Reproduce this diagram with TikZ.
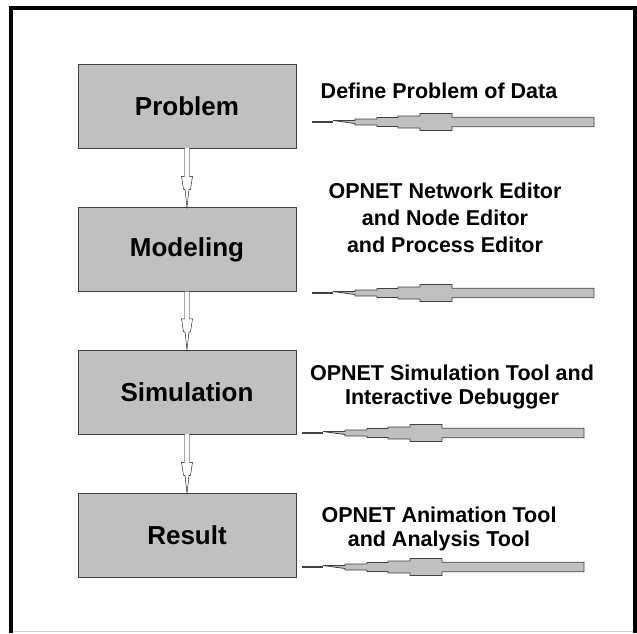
\documentclass[tikz,border=0pt]{standalone}
\usepackage{fontspec}
\setmainfont{Liberation Sans}
\usepackage{tikz}
\usetikzlibrary{positioning,calc}

\definecolor{boxgray}{RGB}{192,192,192}
\definecolor{edgegray}{RGB}{64,64,64}

% wide stepped arrow, tip at #1
\newcommand{\toolarrow}[1]{%
  \draw[line width=1.6pt, edgegray] (#1) -- ++(21,0);
  \draw[wide, shift={(#1)}] (21,-1.5) -- (43,-1.5) -- (43,-3) -- (65,-3) -- (65,-4.5) -- (86,-4.5)
    -- (86,-6) -- (108,-6) -- (108,-8.5) -- (140,-8.5) -- (140,-4.7) -- (282,-4.7)
    -- (282,4.7) -- (140,4.7) -- (140,8.5) -- (108,8.5) -- (108,6) -- (86,6) -- (86,4.5)
    -- (65,4.5) -- (65,3) -- (43,3) -- (43,1.5) -- cycle;}

% narrow hollow arrow from #1 down to #2
\newcommand{\flowarrow}[2]{%
  \draw[thin, fill=white] ($(#1.south)+(-2.5,0)$) -- ($(#2.north)+(-2.5,-31)$) -- ($(#2.north)+(-5.5,-31)$)
    -- ($(#2.north)+(-3.5,-18)$) -- ($(#2.north)+(-2,-18)$) -- (#2.north) -- ($(#2.north)+(2,-18)$)
    -- ($(#2.north)+(3.5,-18)$) -- ($(#2.north)+(5.5,-31)$) -- ($(#2.north)+(2.5,-31)$) -- ($(#1.south)+(2.5,0)$);}

\begin{document}
\begin{tikzpicture}[x=1pt, y=-1pt,
    stage/.style={draw=edgegray, fill=boxgray, minimum width=218pt, minimum height=84pt,
      font=\fontsize{26}{30}\selectfont\bfseries},
    tool/.style={align=center, font=\fontsize{21.5}{24}\selectfont\bfseries},
    wide/.style={draw=edgegray, fill=boxgray, line width=0.8pt}]
  \fill[white] (0,0) rectangle (637,633);
  \useasboundingbox (0,0) rectangle (637,633);
  % frame
  \draw[line width=4pt] (11,633) -- (11,8) -- (635,8) -- (635,633);
  \draw[gray!35] (13,631) -- (633,631);

  \node[stage] (prob) at (187,106) {Problem};
  \node[stage] (model) at (187,249.5) {Modeling};
  \node[stage] (sim) at (187,392) {Simulation};
  \node[stage] (res) at (187,535.5) {Result};

  \flowarrow{prob}{model}
  \flowarrow{model}{sim}
  \flowarrow{sim}{res}

  \coordinate (tipA) at (312,122);
  \coordinate (tipB) at (312,293);
  \coordinate (tipC) at (302,433);
  \coordinate (tipD) at (302,567);
  \toolarrow{tipA}
  \toolarrow{tipB}
  \toolarrow{tipC}
  \toolarrow{tipD}

  \node[tool] (defn) at (439,91) {Define Problem of Data};
  \node[tool] (editors) at (445,218) {OPNET Network Editor\\[3pt]and Node Editor\\[3pt]and Process Editor};
  \node[tool] (debug) at (452,387) {OPNET Simulation Tool and\\Interactive Debugger};
  \node[tool] (anal) at (439,529) {OPNET Animation Tool\\and Analysis Tool};
\end{tikzpicture}
\end{document}
